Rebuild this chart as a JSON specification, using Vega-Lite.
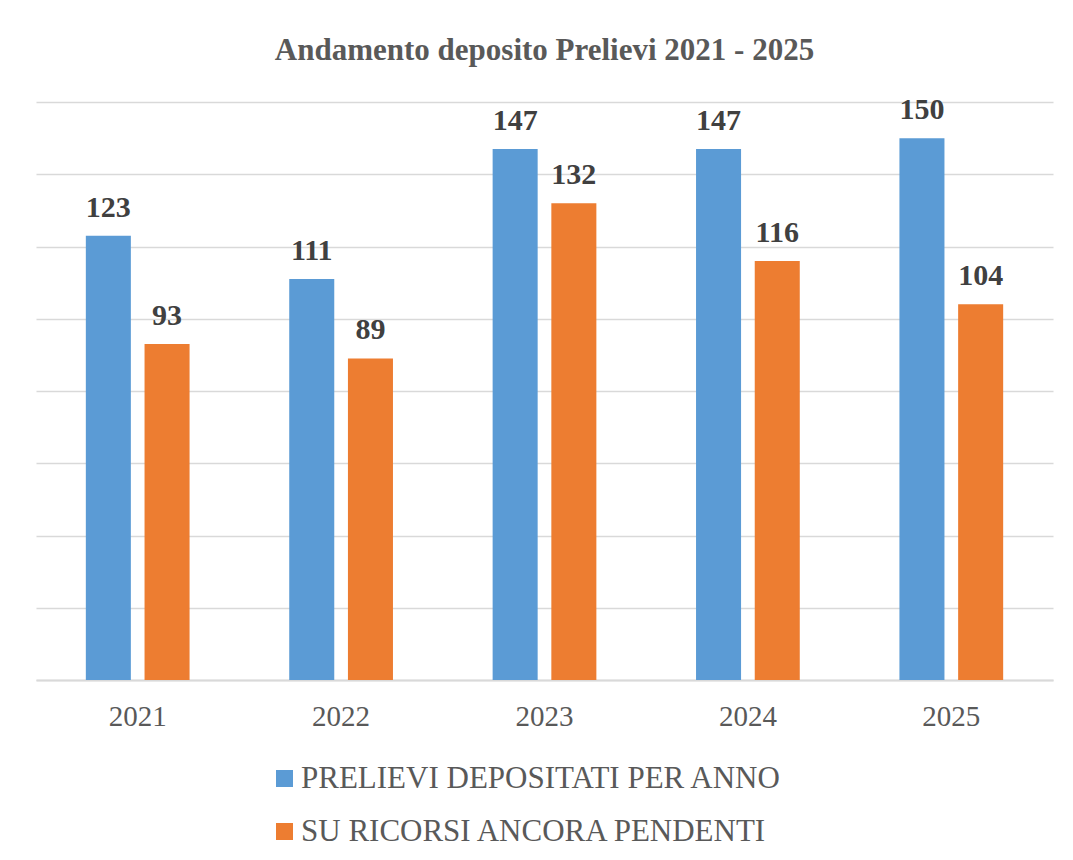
{
  "$schema": "https://vega.github.io/schema/vega-lite/v6.json",
  "width": 1017,
  "height": 578,
  "autosize": {"type": "none"},
  "padding": {"left": 36, "top": 102, "right": 20, "bottom": 180},
  "background": "white",
  "title": {
    "text": "Andamento deposito Prelievi 2021 - 2025",
    "font": "Liberation Serif",
    "fontSize": 31,
    "fontWeight": "bold",
    "color": "#595959",
    "anchor": "middle",
    "baseline": "alphabetic",
    "offset": 4
  },
  "data": {
    "values": [
      {"anno": "2021", "serie": "PRELIEVI DEPOSITATI PER ANNO", "valore": 123},
      {"anno": "2021", "serie": "SU RICORSI ANCORA PENDENTI", "valore": 93},
      {"anno": "2022", "serie": "PRELIEVI DEPOSITATI PER ANNO", "valore": 111},
      {"anno": "2022", "serie": "SU RICORSI ANCORA PENDENTI", "valore": 89},
      {"anno": "2023", "serie": "PRELIEVI DEPOSITATI PER ANNO", "valore": 147},
      {"anno": "2023", "serie": "SU RICORSI ANCORA PENDENTI", "valore": 132},
      {"anno": "2024", "serie": "PRELIEVI DEPOSITATI PER ANNO", "valore": 147},
      {"anno": "2024", "serie": "SU RICORSI ANCORA PENDENTI", "valore": 116},
      {"anno": "2025", "serie": "PRELIEVI DEPOSITATI PER ANNO", "valore": 150},
      {"anno": "2025", "serie": "SU RICORSI ANCORA PENDENTI", "valore": 104}
    ]
  },
  "encoding": {
    "x": {
      "field": "anno",
      "type": "nominal",
      "scale": {"paddingInner": 0.49, "paddingOuter": 0.245},
      "axis": {
        "title": null,
        "labelAngle": 0,
        "labelFont": "Liberation Serif",
        "labelFontSize": 29,
        "labelColor": "#595959",
        "labelPadding": 22,
        "ticks": false,
        "domain": true,
        "domainColor": "#d9d9d9",
        "domainWidth": 2
      }
    },
    "xOffset": {
      "field": "serie",
      "type": "nominal",
      "scale": {"paddingInner": 0.233, "paddingOuter": 0}
    },
    "y": {
      "field": "valore",
      "type": "quantitative",
      "scale": {"domain": [0, 160], "nice": false},
      "axis": {
        "title": null,
        "labels": false,
        "ticks": false,
        "domain": false,
        "values": [0, 20, 40, 60, 80, 100, 120, 140, 160],
        "grid": true,
        "gridColor": "#d9d9d9",
        "gridWidth": 1.5
      }
    }
  },
  "layer": [
    {
      "mark": {"type": "bar"},
      "encoding": {
        "color": {
          "field": "serie",
          "type": "nominal",
          "scale": {
            "domain": ["PRELIEVI DEPOSITATI PER ANNO", "SU RICORSI ANCORA PENDENTI"],
            "range": ["#5B9BD5", "#ED7D31"]
          },
          "legend": {
            "title": null,
            "orient": "none",
            "legendX": 233,
            "legendY": 661,
            "direction": "vertical",
            "symbolType": "square",
            "symbolSize": 289,
            "symbolStrokeWidth": 0,
            "labelFont": "Liberation Serif",
            "labelFontSize": 31,
            "labelColor": "#595959",
            "labelOffset": 1,
            "rowPadding": 21,
            "labelLimit": 900,
            "padding": 0
          }
        }
      }
    },
    {
      "mark": {
        "type": "text",
        "baseline": "alphabetic",
        "dy": -19,
        "font": "Liberation Serif",
        "fontSize": 30,
        "fontWeight": "bold",
        "color": "#404040"
      },
      "encoding": {
        "text": {"field": "valore", "type": "quantitative"}
      }
    }
  ],
  "config": {
    "font": "Liberation Serif",
    "view": {"stroke": null}
  }
}
